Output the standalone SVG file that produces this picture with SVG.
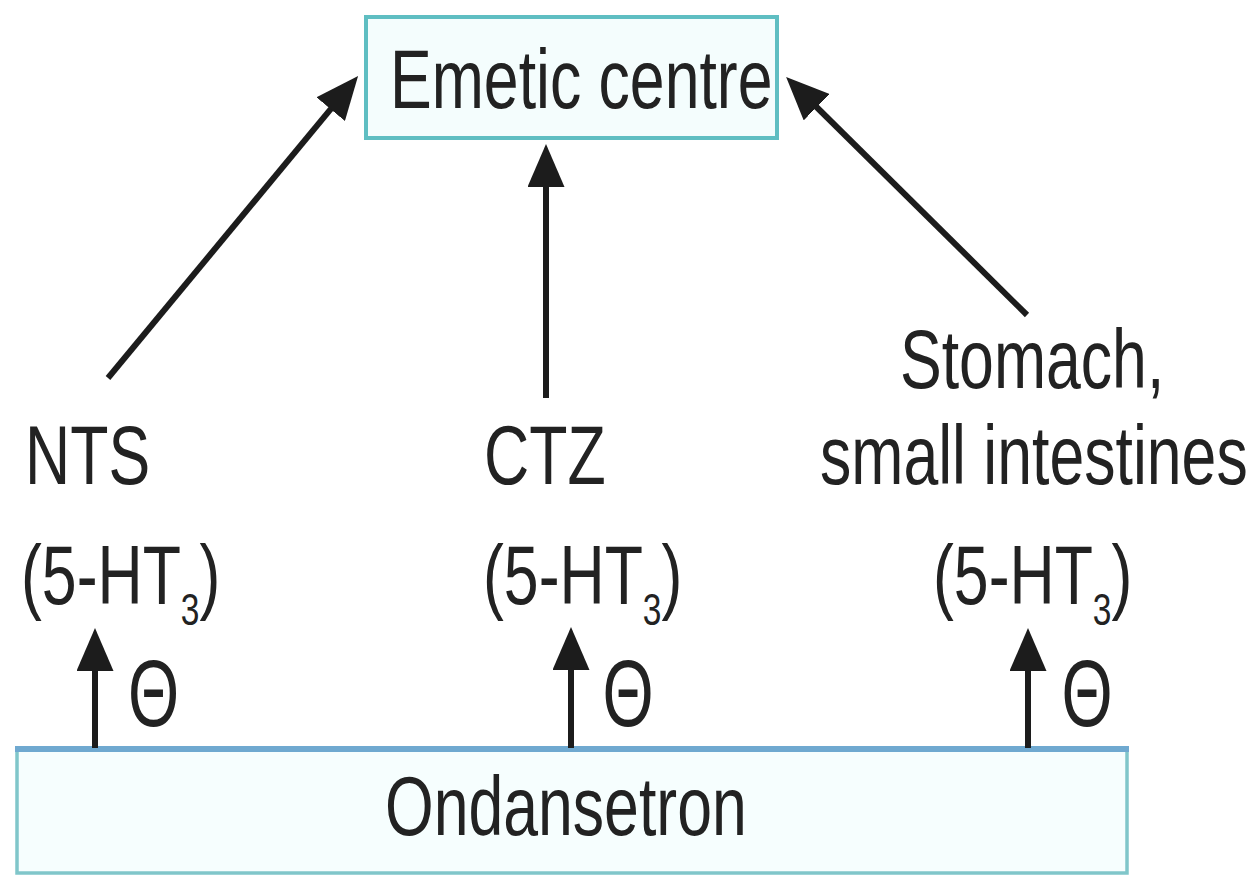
<svg xmlns="http://www.w3.org/2000/svg" width="1250" height="878" viewBox="0 0 1250 878">
  <style>
    .lbl { font-family: "Liberation Sans", Arial, sans-serif; font-size: 84px; fill: #222; }
    .sub { font-size: 45px; }
    .neg { font-family: "Liberation Sans", Arial, sans-serif; font-size: 94px; fill: #222; text-anchor: middle; }
    .box { fill: #f4fdfd; stroke: #5fbec2; stroke-width: 4; }
    .base { fill: #f6fefe; stroke: #80c6ca; stroke-width: 3.5; }
    .edge { stroke: #1c1c1c; stroke-width: 6; fill: none; marker-end: url(#head); }
  </style>
  <defs>
    <marker id="head" viewBox="0 0 43 37" refX="1" refY="18.5" markerWidth="43" markerHeight="37" markerUnits="userSpaceOnUse" orient="auto">
      <path d="M0,0 L43,18.5 L0,37 Z" fill="#1c1c1c"/>
    </marker>
  </defs>
  <rect width="1250" height="878" fill="#ffffff"/>

  <!-- top target -->
  <g id="emetic-centre">
    <rect class="box" x="366" y="17" width="411" height="121"/>
    <text class="lbl" transform="translate(390,108) scale(0.745,1)">Emetic centre</text>
  </g>

  <!-- receptor sites -->
  <g id="nts">
    <text class="lbl" transform="translate(25,484) scale(0.745,1)">NTS</text>
    <text class="lbl" transform="translate(21,604) scale(0.745,1)">(5-HT<tspan class="sub" dy="21">3</tspan><tspan dy="-21">)</tspan></text>
  </g>
  <g id="ctz">
    <text class="lbl" transform="translate(484,484) scale(0.745,1)">CTZ</text>
    <text class="lbl" transform="translate(483,604) scale(0.745,1)">(5-HT<tspan class="sub" dy="21">3</tspan><tspan dy="-21">)</tspan></text>
  </g>
  <g id="gut">
    <text class="lbl" transform="translate(900,388) scale(0.745,1)">Stomach,</text>
    <text class="lbl" transform="translate(820,484) scale(0.745,1)">small intestines</text>
    <text class="lbl" transform="translate(933,604) scale(0.745,1)">(5-HT<tspan class="sub" dy="21">3</tspan><tspan dy="-21">)</tspan></text>
  </g>

  <!-- drug -->
  <g id="ondansetron">
    <rect class="base" x="17" y="749" width="1110" height="124"/>
    <line x1="15" y1="749" x2="1129" y2="749" stroke="#6fa9d0" stroke-width="6"/>
    <text class="lbl" transform="translate(385,835) scale(0.745,1)">Ondansetron</text>
  </g>

  <!-- inhibition signs -->
  <g id="blocks">
    <text class="neg" transform="translate(153.5,726) scale(0.7,1)">Θ</text>
    <text class="neg" transform="translate(628,726) scale(0.7,1)">Θ</text>
    <text class="neg" transform="translate(1087,726) scale(0.7,1)">Θ</text>
  </g>

  <g id="connectors">
    <line class="edge" x1="108" y1="378" x2="331.3" y2="108.4"/>
    <line class="edge" x1="546" y1="398" x2="546" y2="186"/>
    <line class="edge" x1="1027" y1="315" x2="816" y2="106.5"/>
    <line class="edge" x1="95" y1="748" x2="95" y2="670"/>
    <line class="edge" x1="571" y1="748" x2="571" y2="669"/>
    <line class="edge" x1="1028" y1="748" x2="1028" y2="670"/>
  </g>
</svg>
